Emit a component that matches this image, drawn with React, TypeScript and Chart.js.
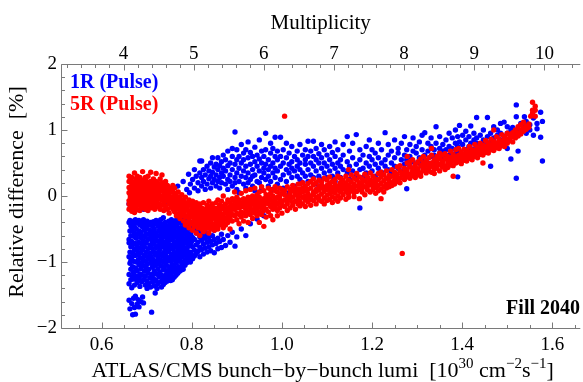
import { useEffect, useRef } from 'react';
import { Chart, registerables } from 'chart.js';

Chart.register(...registerables);

const SERIF = '"Liberation Serif", "Times New Roman", serif';

// Axis ticks
const lumiTicks = [0.6, 0.8, 1.0, 1.2, 1.4, 1.6];
const multiplicityTicks = [4, 5, 6, 7, 8, 9, 10];
const diffTicks = [-2, -1, 0, 1, 2];

// Axis ranges (bottom: bunch lumi, top: multiplicity, left: relative difference)
const LUMI_MIN = 0.51;
const LUMI_MAX = 1.662;
const MULT_MIN = 3.109;
const MULT_MAX = 10.512;
const DIFF_MIN = -2;
const DIFF_MAX = 2;

const seriesNames = ['1R (Pulse)', '5R (Pulse)'];
const fillLabel = 'Fill 2040';

// 1R (Pulse): [lumi, [relative differences %]]
const pulse1R: [number, number[]][] = [
  [0.661, [-1.58, -1.33, -1.19, -0.92, -0.71, -0.66, -0.4, -0.12]],
  [0.663, [-1.71, -1.02, -0.85, -0.53, -0.37]],
  [0.665, [-1.27, -1.11, -0.98, -0.77, -0.6, -0.45, 0.05]],
  [0.667, [-1.63, -1.39, -0.94, -0.69, -0.51]],
  [0.669, [-1.8, -1.22, -1.07, -0.87, -0.74, -0.42]],
  [0.671, [-1.55, -1.16, -0.99, -0.61, -0.38]],
  [0.673, [-1.69, -1.35, -1.26, -0.81, -0.56, -0.47, 0.08]],
  [0.675, [-1.79, -1.52, -1.09, -0.9, -0.72, -0.36]],
  [0.677, [-1.21, -1.0, -0.64, -0.5]],
  [0.679, [-1.64, -1.31, -1.13, -0.83, -0.76, -0.41]],
  [0.681, [-1.57, -0.97, -0.88, -0.58, -0.1]],
  [0.683, [-1.68, -1.25, -1.04, -0.7, -0.53, -0.37]],
  [0.685, [-1.37, -1.18, -0.93, -0.79, -0.44]],
  [0.687, [-1.6, -1.1, -0.86, -0.63, -0.55]],
  [0.689, [-1.3, -1.2, -1.01, -0.73, -0.4]],
  [0.691, [-1.53, -0.95, -0.82, -0.6, -0.47]],
  [0.693, [-1.62, -1.27, -1.06, -0.68, -0.36, -0.2]],
  [0.695, [-1.14, -0.9, -0.77, -0.52]],
  [0.697, [-1.35, -1.22, -0.99, -0.62, -0.43]],
  [0.699, [-1.09, -0.85, -0.71, -0.57]],
  [0.701, [-1.4, -1.29, -1.03, -0.92, -0.49, -0.38]],
  [0.703, [-1.17, -0.8, -0.66, -0.44]],
  [0.705, [-1.33, -1.11, -0.96, -0.58, -0.05]],
  [0.707, [-1.24, -0.87, -0.74, -0.52]],
  [0.709, [-1.38, -1.02, -0.91, -0.63, -0.4]],
  [0.711, [-1.76, -1.19, -0.79, -0.55]],
  [0.713, [-1.3, -1.08, -0.95, -0.69, -0.46]],
  [0.715, [-1.25, -0.84, -0.6, -0.39]],
  [0.717, [-1.36, -1.14, -1.0, -0.73, -0.5]],
  [0.719, [-1.47, -1.05, -0.89, -0.65, -0.42]],
  [0.721, [-1.28, -1.18, -0.78, -0.56, -0.37]],
  [0.723, [-1.4, -0.98, -0.86, -0.68, -0.15]],
  [0.725, [-1.33, -1.1, -0.93, -0.61, -0.45]],
  [0.727, [-1.22, -1.03, -0.75, -0.53, -0.41]],
  [0.729, [-1.15, -0.82, -0.7, -0.48]],
  [0.731, [-1.3, -0.97, -0.88, -0.59, -0.36]],
  [0.733, [-1.38, -1.2, -1.06, -0.66, -0.5]],
  [0.735, [-1.27, -0.91, -0.77, -0.55, -0.43]],
  [0.737, [-1.34, -1.12, -1.0, -0.72, -0.33]],
  [0.739, [-1.24, -1.08, -0.85, -0.62, -0.47]],
  [0.741, [-1.31, -0.95, -0.8, -0.58, -0.4]],
  [0.743, [-1.19, -1.03, -0.9, -0.69, -0.52]],
  [0.745, [-1.29, -1.13, -0.76, -0.6, -0.1]],
  [0.747, [-1.22, -0.98, -0.84, -0.64, -0.45]],
  [0.749, [-1.26, -1.07, -0.73, -0.55, -0.38]],
  [0.751, [-1.16, -0.93, -0.81, -0.67, -0.48]],
  [0.753, [-1.28, -1.1, -0.99, -0.6, -0.42]],
  [0.755, [-1.21, -0.88, -0.75, -0.53, -0.36]],
  [0.757, [-1.27, -1.04, -0.92, -0.66, -0.47]],
  [0.759, [-1.15, -0.97, -0.8, -0.58, -0.4]],
  [0.761, [-1.23, -1.08, -0.86, -0.7, -0.5]],
  [0.763, [-1.13, -0.95, -0.77, -0.62, -0.43]],
  [0.765, [-1.2, -1.02, -0.89, -0.55, -0.37]],
  [0.767, [-1.1, -0.93, -0.72, -0.6, -0.46]],
  [0.769, [-1.17, -0.99, -0.83, -0.66, 0.15]],
  [0.771, [-1.07, -0.9, -0.78, -0.52, -0.4]],
  [0.773, [-1.14, -0.96, -0.7, -0.58, -0.33]],
  [0.775, [-1.09, -0.86, -0.75, -0.63, -0.48]],
  [0.777, [-1.12, -1.0, -0.81, -0.55, -0.41]],
  [0.779, [-1.04, -0.92, -0.68, -0.6, -0.36]],
  [0.781, [-1.11, -0.84, -0.73, -0.5, 0.22]],
  [0.783, [-0.99, -0.89, -0.78, -0.57, -0.44]],
  [0.785, [-1.05, -0.82, -0.65, -0.52, -0.38]],
  [0.787, [-0.96, -0.87, -0.71, -0.48]],
  [0.789, [-1.01, -0.79, -0.62, -0.55, 0.1]],
  [0.791, [-0.93, -0.84, -0.68, -0.45]],
  [0.793, [-0.98, -0.76, -0.59, -0.5, 0.33]],
  [0.795, [-0.9, -0.72, -0.64, -0.42, 0.05]],
  [0.797, [-1.0, -0.85, -0.57, -0.47, 0.18]],
  [0.799, [-0.88, -0.7, -0.61, -0.4]],
  [0.802, [-0.95, -0.77, -0.63, -0.45, 0.25]],
  [0.806, [-0.91, -0.82, -0.66, -0.51, 0.12, 0.4]],
  [0.810, [-0.87, -0.74, -0.56, -0.42, 0.3]],
  [0.814, [-0.84, -0.7, -0.53, 0.08, 0.2]],
  [0.818, [-0.92, -0.78, -0.62, -0.48, 0.35, 0.53]],
  [0.822, [-0.81, -0.67, -0.55, 0.15, 0.28, 0.53]],
  [0.826, [-0.88, -0.73, -0.6, -0.45, 0.22, 0.4]],
  [0.830, [-0.79, -0.64, -0.5, 0.1, 0.32]],
  [0.834, [-0.85, -0.7, -0.57, 0.18, 0.45]],
  [0.838, [-0.77, -0.63, -0.48, 0.26, 0.38]],
  [0.842, [-0.83, -0.69, 0.12, 0.3, 0.5]],
  [0.846, [-0.74, -0.6, 0.2, 0.36, 0.58]],
  [0.850, [-0.86, -0.66, -0.52, 0.25, 0.44]],
  [0.854, [-0.72, 0.15, 0.32, 0.48]],
  [0.858, [-0.8, -0.64, 0.22, 0.4, 0.58]],
  [0.862, [-0.69, 0.12, 0.28, 0.46]],
  [0.866, [-0.78, -0.58, 0.2, 0.35, 0.52]],
  [0.870, [-0.66, 0.3, 0.42, 0.62]],
  [0.875, [-0.75, 0.18, 0.38, 0.55]],
  [0.880, [-0.6, 0.1, 0.25, 0.46, 0.68]],
  [0.885, [-0.7, 0.22, 0.32, 0.5]],
  [0.890, [-0.55, 0.15, 0.4, 0.6, 0.72]],
  [0.896, [-0.76, 0.2, 0.28, 0.48, 0.97]],
  [0.900, [-0.62, 0.1, 0.35, 0.55, 0.7]],
  [0.905, [0.05, 0.22, 0.42, 0.6]],
  [0.910, [-0.5, 0.3, 0.5, 0.78]],
  [0.915, [0.18, 0.38, 0.55, 0.65]],
  [0.920, [-0.6, 0.12, 0.28, 0.45, 0.7]],
  [0.925, [0.2, 0.35, 0.58, 0.82]],
  [0.930, [-0.42, 0.25, 0.48, 0.66]],
  [0.935, [0.15, 0.3, 0.4, 0.6]],
  [0.940, [0.08, 0.32, 0.52, 0.74]],
  [0.945, [-0.35, 0.22, 0.45, 0.62]],
  [0.950, [0.2, 0.38, 0.56, 0.85]],
  [0.955, [0.1, 0.28, 0.5, 0.68]],
  [0.960, [-0.3, 0.35, 0.42, 0.6]],
  [0.964, [0.25, 0.48, 0.7, 0.95]],
  [0.970, [0.15, 0.3, 0.4, 0.55]],
  [0.975, [0.22, 0.45, 0.65, 0.8]],
  [0.980, [0.1, 0.35, 0.5, 0.72]],
  [0.985, [0.28, 0.42, 0.6, 0.89]],
  [0.990, [0.18, 0.38, 0.55, 0.68]],
  [0.997, [0.25, 0.45, 0.6, 0.89]],
  [1.003, [0.12, 0.32, 0.5, 0.7]],
  [1.010, [0.22, 0.4, 0.58, 0.8]],
  [1.016, [0.05, 0.35, 0.48, 0.65]],
  [1.022, [0.28, 0.42, 0.52, 0.75]],
  [1.028, [0.15, 0.38, 0.6]],
  [1.034, [0.3, 0.45, 0.55, 0.68]],
  [1.040, [0.25, 0.4, 0.5, 0.78]],
  [1.046, [0.2, 0.35, 0.62]],
  [1.052, [0.3, 0.48, 0.55, 0.7]],
  [1.058, [0.22, 0.4, 0.6, 0.83]],
  [1.064, [0.32, 0.5, 0.68]],
  [1.070, [0.28, 0.45, 0.6, 0.83]],
  [1.076, [0.18, 0.38, 0.55, 0.72]],
  [1.082, [0.3, 0.5, 0.64]],
  [1.088, [0.25, 0.42, 0.58, 0.78]],
  [1.094, [0.35, 0.5, 0.7]],
  [1.100, [0.15, 0.28, 0.45, 0.62]],
  [1.106, [0.38, 0.55, 0.75]],
  [1.112, [0.3, 0.48, 0.66]],
  [1.118, [0.22, 0.42, 0.6, 0.82]],
  [1.124, [0.35, 0.5, 0.7]],
  [1.130, [0.28, 0.45, 0.55]],
  [1.136, [0.4, 0.62, 0.78]],
  [1.145, [0.35, 0.52, 0.9]],
  [1.150, [0.25, 0.45, 0.68]],
  [1.157, [0.38, 0.58, 0.8]],
  [1.165, [0.3, 0.48, 0.93]],
  [1.173, [-0.18, 0.4, 0.55, 0.7]],
  [1.180, [0.28, 0.42, 0.62]],
  [1.187, [0.35, 0.5, 0.75]],
  [1.194, [0.45, 0.6, 0.85]],
  [1.200, [0.38, 0.55, 0.7]],
  [1.207, [0.3, 0.48, 0.65]],
  [1.214, [0.42, 0.58, 0.8]],
  [1.221, [0.36, 0.5, 0.7]],
  [1.229, [0.45, 0.55, 0.96]],
  [1.236, [0.4, 0.62, 0.78]],
  [1.243, [0.35, 0.5, 0.68]],
  [1.250, [0.45, 0.58, 0.85]],
  [1.258, [0.42, 0.65, 0.72]],
  [1.265, [0.38, 0.55, 0.8]],
  [1.272, [0.48, 0.62, 0.9]],
  [1.277, [0.11, 0.55, 0.7]],
  [1.284, [0.45, 0.6, 0.78]],
  [1.291, [0.52, 0.68, 0.88]],
  [1.298, [0.4, 0.65, 0.75]],
  [1.305, [0.5, 0.58, 0.82]],
  [1.311, [0.45, 0.7, 0.92]],
  [1.317, [0.55, 0.62, 0.96]],
  [1.324, [0.5, 0.68, 0.8]],
  [1.331, [0.6, 0.75, 0.88]],
  [1.338, [0.52, 0.62, 0.7]],
  [1.342, [0.58, 0.8, 1.05]],
  [1.350, [0.65, 0.72, 0.9]],
  [1.357, [0.55, 0.68, 0.78]],
  [1.364, [0.6, 0.7, 0.85]],
  [1.371, [0.62, 0.75, 0.95]],
  [1.378, [0.58, 0.72, 0.88]],
  [1.385, [0.65, 0.8, 1.0]],
  [1.390, [0.29, 0.75, 0.9]],
  [1.394, [0.68, 0.82, 1.07]],
  [1.401, [0.62, 0.78, 0.92]],
  [1.408, [0.7, 0.85, 0.98]],
  [1.415, [0.65, 0.75, 0.9]],
  [1.419, [0.72, 0.8, 1.06]],
  [1.426, [0.7, 0.85, 0.95]],
  [1.432, [0.8, 0.88, 1.19]],
  [1.440, [0.68, 0.75, 0.92]],
  [1.447, [0.78, 0.85, 1.0]],
  [1.456, [0.72, 0.9, 1.19]],
  [1.463, [0.45, 0.82, 0.95]],
  [1.470, [0.78, 0.88, 1.05]],
  [1.478, [0.8, 0.92, 1.0]],
  [1.485, [0.85, 0.95, 1.1]],
  [1.493, [0.82, 0.9, 1.12]],
  [1.500, [0.72, 0.95, 1.05]],
  [1.508, [0.56, 0.9, 1.0]],
  [1.512, [0.96, 1.04]],
  [1.520, [0.27, 1.2, 1.38]],
  [1.524, [0.68, 1.0]],
  [1.530, [0.98, 1.1]],
  [1.538, [1.05, 1.2]],
  [1.542, [0.95, 1.13]],
  [1.550, [1.0, 1.08]],
  [1.558, [0.92, 1.18]],
  [1.566, [1.02, 1.1]],
  [1.574, [0.89, 1.27]],
  [1.578, [0.53, 1.13]],
];

// 5R (Pulse): [lumi, [relative differences %]]
const pulse5R: [number, number[]][] = [
  [0.661, [0.3, 0.13, 0.05, -0.07, -0.12, -0.2, 0.22]],
  [0.664, [0.1, -0.02, -0.15, 0.25, 0.01, -0.09]],
  [0.667, [0.18, 0.06, -0.11, -0.23, 0.28, 0.12]],
  [0.670, [0.02, -0.05, 0.14, -0.18, 0.21, 0.09]],
  [0.673, [0.35, 0.1, -0.03, -0.13, 0.19, -0.25]],
  [0.676, [0.15, 0.0, -0.08, 0.26, 0.05, -0.16]],
  [0.679, [0.08, -0.1, 0.17, -0.02, 0.3, -0.21]],
  [0.682, [0.12, 0.03, -0.14, 0.22, -0.06]],
  [0.685, [0.2, -0.04, 0.06, -0.22, 0.14, 0.28]],
  [0.688, [0.0, 0.16, -0.1, 0.08, -0.18]],
  [0.691, [0.24, 0.1, -0.05, 0.02, -0.14, 0.37]],
  [0.694, [0.12, -0.02, 0.2, -0.1, 0.06]],
  [0.697, [0.05, 0.18, -0.08, 0.28, -0.2, 0.0]],
  [0.700, [0.14, -0.04, 0.1, -0.15, 0.22]],
  [0.703, [0.08, -0.12, 0.18, 0.02, -0.22, 0.3]],
  [0.706, [0.16, 0.0, -0.08, 0.1, -0.16]],
  [0.709, [0.06, 0.22, -0.04, 0.14, -0.18, 0.36]],
  [0.712, [0.12, -0.1, 0.03, 0.2, -0.02]],
  [0.715, [0.18, 0.04, -0.14, 0.26, -0.06, 0.1]],
  [0.718, [0.0, 0.14, -0.2, 0.08, -0.08]],
  [0.721, [0.22, 0.06, -0.1, 0.16, -0.02, 0.34]],
  [0.724, [0.1, -0.06, 0.02, -0.16, 0.2]],
  [0.727, [0.04, 0.18, -0.12, 0.12, -0.04]],
  [0.730, [0.14, -0.02, 0.08, -0.2, 0.26]],
  [0.734, [0.0, 0.1, -0.14, 0.2, -0.06, 0.32]],
  [0.738, [0.06, -0.1, 0.16, -0.02, -0.22]],
  [0.742, [0.12, -0.04, 0.02, -0.16, 0.22]],
  [0.746, [-0.08, 0.08, -0.2, 0.16, 0.0]],
  [0.750, [0.04, -0.12, 0.12, -0.04, -0.26]],
  [0.754, [-0.02, 0.1, -0.16, 0.06, -0.08]],
  [0.758, [0.06, -0.1, -0.2, 0.16, -0.02]],
  [0.762, [-0.04, -0.14, 0.04, -0.24, 0.12]],
  [0.766, [-0.1, 0.0, -0.18, -0.06, -0.3]],
  [0.770, [-0.08, -0.2, 0.06, -0.12, -0.28]],
  [0.774, [-0.14, -0.02, -0.24, -0.1, -0.34]],
  [0.778, [-0.06, -0.18, -0.3, 0.02, -0.12]],
  [0.782, [-0.16, -0.26, -0.08, -0.38, -0.2]],
  [0.786, [-0.12, -0.22, -0.02, -0.32, -0.44]],
  [0.790, [-0.2, -0.3, -0.1, -0.4, -0.16]],
  [0.794, [-0.14, -0.26, -0.36, -0.06, -0.48]],
  [0.798, [-0.22, -0.32, -0.12, -0.42, -0.28]],
  [0.802, [-0.18, -0.3, -0.4, -0.08, -0.52]],
  [0.806, [-0.26, -0.36, -0.14, -0.46, -0.22]],
  [0.810, [-0.2, -0.32, -0.42, -0.1, -0.56]],
  [0.814, [-0.28, -0.38, -0.16, -0.48, -0.24]],
  [0.818, [-0.22, -0.34, -0.44, -0.12, -0.6]],
  [0.822, [-0.3, -0.4, -0.18, -0.5, -0.26]],
  [0.826, [-0.24, -0.36, -0.46, -0.1, -0.54]],
  [0.830, [-0.32, -0.2, -0.42, -0.28, -0.5]],
  [0.834, [-0.26, -0.38, -0.14, -0.48, -0.3]],
  [0.838, [-0.2, -0.34, -0.44, -0.08, -0.56]],
  [0.842, [-0.28, -0.4, -0.16, -0.5, -0.22]],
  [0.846, [-0.22, -0.34, -0.46, -0.12, -0.3]],
  [0.850, [-0.3, -0.18, -0.42, -0.26, -0.52]],
  [0.854, [-0.24, -0.36, -0.1, -0.46, -0.2]],
  [0.858, [-0.18, -0.3, -0.4, -0.06, -0.5]],
  [0.862, [-0.26, -0.14, -0.36, -0.22, -0.44]],
  [0.866, [-0.2, -0.32, -0.08, -0.42, -0.28]],
  [0.870, [-0.16, -0.28, -0.38, 0.0, -0.48]],
  [0.875, [-0.24, -0.12, -0.34, -0.2, -0.44]],
  [0.880, [-0.18, -0.3, -0.06, -0.4, -0.26]],
  [0.885, [-0.22, -0.1, -0.34, -0.16, -0.5]],
  [0.890, [-0.14, -0.28, -0.04, -0.38, -0.2]],
  [0.895, [-0.2, -0.08, -0.3, -0.16, 0.06]],
  [0.900, [-0.12, -0.26, -0.36, -0.02, -0.18]],
  [0.905, [-0.18, -0.06, -0.28, -0.14, -0.42]],
  [0.910, [-0.1, -0.24, 0.04, -0.32, -0.16]],
  [0.915, [-0.16, -0.04, -0.26, -0.12, -0.38]],
  [0.920, [-0.08, -0.2, 0.08, -0.3, -0.14]],
  [0.925, [-0.14, -0.02, -0.24, -0.1, -0.4]],
  [0.930, [-0.06, -0.18, 0.1, -0.28, -0.12]],
  [0.935, [-0.12, 0.0, -0.22, -0.08, -0.34]],
  [0.940, [-0.16, -0.04, 0.12, -0.26, -0.1]],
  [0.945, [-0.1, -0.2, 0.02, -0.3, -0.06]],
  [0.950, [-0.14, 0.06, -0.24, -0.02, -0.4]],
  [0.955, [-0.08, -0.18, 0.14, -0.28, -0.12]],
  [0.960, [-0.04, -0.14, 0.08, -0.22, -0.46]],
  [0.965, [-0.1, 0.02, -0.2, -0.06, -0.32]],
  [0.970, [-0.02, -0.12, 0.12, -0.24, -0.08]],
  [0.975, [-0.16, 0.04, -0.06, -0.3, 0.1]],
  [0.980, [-0.08, -0.2, 0.0, -0.12, -0.36]],
  [0.985, [-0.04, 0.08, -0.16, -0.1, 0.14]],
  [0.990, [-0.12, -0.02, -0.22, 0.06, -0.3]],
  [0.995, [0.0, -0.08, 0.12, -0.18, -0.04]],
  [1.000, [-0.1, 0.04, -0.14, 0.1, -0.26]],
  [1.006, [1.21, -0.06, 0.02, -0.16, 0.08]],
  [1.012, [-0.02, -0.12, 0.14, -0.08, -0.22]],
  [1.018, [0.04, -0.06, 0.1, -0.18, 0.0]],
  [1.024, [-0.1, 0.08, -0.02, 0.16, -0.14]],
  [1.030, [0.02, -0.08, 0.12, -0.2, 0.06]],
  [1.036, [-0.04, 0.1, -0.12, 0.18, 0.0]],
  [1.040, [0.1, -0.08, 0.04, -0.15, 0.18]],
  [1.046, [-0.02, 0.12, 0.06, -0.12, 0.2]],
  [1.052, [0.08, -0.06, 0.15, -0.16, 0.0]],
  [1.058, [0.03, 0.19, -0.09, 0.1, -0.03]],
  [1.064, [0.12, -0.05, 0.22, 0.0, -0.14]],
  [1.070, [0.06, 0.17, -0.07, 0.26, 0.02]],
  [1.076, [0.1, -0.02, 0.2, -0.12, 0.07]],
  [1.082, [0.0, 0.14, 0.24, -0.06, 0.09]],
  [1.088, [0.12, 0.03, 0.21, -0.08, 0.16]],
  [1.094, [0.07, 0.27, -0.03, 0.13, -0.12]],
  [1.100, [0.16, 0.01, 0.1, -0.07, 0.24]],
  [1.106, [0.04, 0.19, 0.29, -0.05, 0.11]],
  [1.112, [0.13, -0.1, 0.07, 0.22, -0.01]],
  [1.118, [0.18, 0.05, 0.25, -0.04, 0.12]],
  [1.124, [0.09, 0.3, 0.0, 0.15, -0.08]],
  [1.130, [0.2, 0.06, 0.13, -0.03, 0.27]],
  [1.136, [0.11, 0.24, 0.02, 0.17]],
  [1.142, [0.07, 0.19, 0.3, -0.05, 0.14]],
  [1.148, [0.16, 0.03, 0.24, 0.1, -0.02, 0.4]],
  [1.154, [0.21, 0.08, 0.32, 0.13]],
  [1.160, [0.05, 0.18, 0.27, -0.01, 0.12]],
  [1.166, [0.15, 0.24, 0.07, 0.34]],
  [1.172, [0.1, 0.2, -0.04, 0.29, 0.16]],
  [1.178, [0.19, 0.06, 0.26, 0.12]],
  [1.184, [0.23, 0.14, 0.33, 0.02]],
  [1.190, [0.09, 0.2, 0.28, 0.15]],
  [1.196, [0.17, 0.35, 0.06, 0.24]],
  [1.202, [0.22, 0.1, 0.3, 0.15]],
  [1.208, [0.13, 0.26, 0.04, 0.2]],
  [1.214, [0.25, 0.16, 0.34, 0.08]],
  [1.220, [0.19, 0.29, 0.1, 0.36, -0.04]],
  [1.226, [0.14, 0.23, 0.32, 0.06]],
  [1.232, [0.27, 0.18, 0.38, 0.12]],
  [1.238, [0.21, 0.31, 0.14, 0.26]],
  [1.244, [0.3, 0.2, 0.4, 0.16]],
  [1.250, [0.24, 0.36, 0.18, 0.31]],
  [1.256, [0.33, 0.22, 0.44, 0.28]],
  [1.262, [0.27, 0.38, 0.2, 0.46]],
  [1.267, [-0.87, 0.32]],
  [1.272, [0.36, 0.25, 0.42, 0.3]],
  [1.278, [0.4, 0.29, 0.5, 0.35, 0.6]],
  [1.284, [0.33, 0.45, 0.27, 0.52]],
  [1.290, [0.42, 0.31, 0.38, 0.55]],
  [1.296, [0.36, 0.48, 0.28, 0.44]],
  [1.302, [0.41, 0.33, 0.52, 0.38]],
  [1.308, [0.46, 0.35, 0.56, 0.3]],
  [1.314, [0.39, 0.5, 0.43, 0.6]],
  [1.320, [0.35, 0.47, 0.54, 0.4]],
  [1.326, [0.44, 0.38, 0.58, 0.49]],
  [1.332, [0.5, 0.36, 0.45, 0.62, 0.72]],
  [1.338, [0.41, 0.55, 0.47, 0.34]],
  [1.344, [0.52, 0.42, 0.6, 0.46]],
  [1.350, [0.48, 0.57, 0.38, 0.65]],
  [1.356, [0.44, 0.53, 0.62, 0.5]],
  [1.362, [0.56, 0.45, 0.4, 0.64]],
  [1.368, [0.5, 0.6, 0.43, 0.55]],
  [1.374, [0.58, 0.47, 0.68, 0.52]],
  [1.380, [0.54, 0.63, 0.46, 0.6, 0.3]],
  [1.386, [0.5, 0.59, 0.7, 0.56]],
  [1.392, [0.62, 0.52, 0.57, 0.72]],
  [1.398, [0.56, 0.66, 0.49, 0.61]],
  [1.404, [0.63, 0.54, 0.71, 0.58]],
  [1.410, [0.6, 0.69, 0.53, 0.65]],
  [1.416, [0.66, 0.57, 0.75, 0.62]],
  [1.422, [0.61, 0.7, 0.55, 0.68]],
  [1.428, [0.69, 0.6, 0.78, 0.64]],
  [1.434, [0.65, 0.74, 0.58, 0.71]],
  [1.440, [0.72, 0.63, 0.8, 0.67]],
  [1.446, [0.68, 0.77, 0.62, 0.74, 0.5]],
  [1.452, [0.75, 0.66, 0.84, 0.71]],
  [1.458, [0.71, 0.8, 0.65, 0.78]],
  [1.464, [0.77, 0.7, 0.86, 0.74]],
  [1.470, [0.74, 0.83, 0.69, 0.8, 1.0]],
  [1.476, [0.8, 0.73, 0.9, 0.77]],
  [1.482, [0.77, 0.86, 0.72, 0.83]],
  [1.488, [0.83, 0.76, 0.93, 0.8]],
  [1.494, [0.81, 0.9, 0.75, 0.86]],
  [1.500, [0.86, 0.8, 0.95]],
  [1.506, [0.84, 0.93, 0.89]],
  [1.512, [0.9, 0.96, 0.82]],
  [1.518, [0.93, 1.0, 0.88]],
  [1.524, [0.95, 1.05, 0.91]],
  [1.530, [1.0, 0.94, 1.08]],
  [1.536, [1.03, 1.12, 0.98]],
  [1.542, [1.06, 1.01]],
  [1.548, [1.09, 1.04]],
  [1.552, [1.21]],
  [1.556, [1.3, 1.42, 1.25]],
  [1.562, [1.3, 1.21, 1.36]],
];

function toPoints(cols: [number, number[]][]) {
  return cols.flatMap(([x, ys]) => ys.map((y) => ({ x, y })));
}

function minorValues(min: number, max: number, step: number, majors: number[]) {
  const out: number[] = [];
  const n = Math.round((max - min) / step);
  for (let i = 0; i <= n; i++) {
    const v = +(min + i * step).toFixed(6);
    if (!majors.some((m) => Math.abs(m - v) < 1e-6)) out.push(v);
  }
  return out;
}

const FRAME = '#7a7a7a';

const decorPlugin = {
  id: 'decor',
  afterDraw(chart: any) {
    const { ctx, chartArea: a } = chart;
    const sx = chart.scales.x;
    const sx2 = chart.scales.x2;
    const sy = chart.scales.y;
    const L = Math.round(a.left) + 0.5;
    const T = Math.round(a.top) + 0.5;
    const B = Math.round(a.bottom) + 0.5;
    const R = a.right;
    ctx.save();
    ctx.strokeStyle = FRAME;
    ctx.lineWidth = 1;
    ctx.beginPath();
    ctx.moveTo(R, T);
    ctx.lineTo(L, T);
    ctx.lineTo(L, B);
    ctx.lineTo(R, B);
    ctx.stroke();

    const seg = (x1: number, y1: number, x2: number, y2: number) => {
      ctx.beginPath();
      ctx.moveTo(x1, y1);
      ctx.lineTo(x2, y2);
      ctx.stroke();
    };
    const MAJ = 6;
    const MIN = 3.5;
    const px = (s: any, v: number) => Math.round(s.getPixelForValue(v)) + 0.5;

    lumiTicks.forEach((v) => seg(px(sx, v), B, px(sx, v), B - MAJ));
    minorValues(0.55, 1.65, 0.05, lumiTicks).forEach((v) => seg(px(sx, v), B, px(sx, v), B - MIN));
    multiplicityTicks.forEach((v) => seg(px(sx2, v), T, px(sx2, v), T + MAJ));
    minorValues(3.2, 10.4, 0.2, multiplicityTicks).forEach((v) => seg(px(sx2, v), T, px(sx2, v), T + MIN));
    diffTicks.forEach((v) => seg(L, px(sy, v), L + MAJ, px(sy, v)));
    minorValues(-2, 2, 0.2, diffTicks).forEach((v) => seg(L, px(sy, v), L + MIN, px(sy, v)));

    // legend texts
    ctx.textBaseline = 'alphabetic';
    ctx.textAlign = 'left';
    ctx.font = `bold 20px ${SERIF}`;
    ctx.fillStyle = '#0000ff';
    ctx.fillText(seriesNames[0], 70, 88);
    ctx.fillStyle = '#ff0000';
    ctx.fillText(seriesNames[1], 70, 110);
    ctx.fillStyle = '#000';
    ctx.textAlign = 'right';
    ctx.fillText(fillLabel, 580, 314);

    // top title
    ctx.font = `21px ${SERIF}`;
    ctx.textAlign = 'center';
    ctx.fillText('Multiplicity', (a.left + a.right) / 2, 29);

    // y title
    ctx.font = `22px ${SERIF}`;
    ctx.save();
    ctx.translate(23, 192);
    ctx.rotate(-Math.PI / 2);
    ctx.textAlign = 'center';
    ctx.fillText('Relative difference  [%]', 0, 0);
    ctx.restore();

    // x title with superscripts
    const parts: [string, boolean][] = [
      ['ATLAS/CMS bunch\u2212by\u2212bunch lumi  [10', false],
      ['30', true],
      [' cm', false],
      ['\u22122', true],
      ['s', false],
      ['\u22121', true],
      [']', false],
    ];
    const baseFont = `22px ${SERIF}`;
    const supFont = `15px ${SERIF}`;
    let total = 0;
    const widths = parts.map(([t, sup]) => {
      ctx.font = sup ? supFont : baseFont;
      const w = ctx.measureText(t).width;
      total += w;
      return w;
    });
    let cx = (a.left + a.right) / 2 + 2 - total / 2;
    ctx.textAlign = 'left';
    const baseY = 377;
    parts.forEach(([t, sup], i) => {
      ctx.font = sup ? supFont : baseFont;
      ctx.fillText(t, cx, sup ? baseY - 9 : baseY);
      cx += widths[i];
    });
    ctx.restore();
  },
};

const tickFont = { family: SERIF, size: 19 };

export default function App() {
  const ref = useRef<HTMLCanvasElement | null>(null);
  useEffect(() => {
    document.body.style.margin = '0';
    const canvas = ref.current;
    if (!canvas) return;
    const chart = new Chart(canvas, {
      type: 'scatter',
      data: {
        datasets: [
          {
            label: seriesNames[1],
            data: toPoints(pulse5R),
            backgroundColor: '#ff0000',
            borderColor: '#ff0000',
            pointRadius: 2.7,
            pointBorderWidth: 0,
            pointHoverRadius: 2.7,
          },
          {
            label: seriesNames[0],
            data: toPoints(pulse1R),
            backgroundColor: '#0000ff',
            borderColor: '#0000ff',
            pointRadius: 2.7,
            pointBorderWidth: 0,
            pointHoverRadius: 2.7,
          },
        ],
      },
      options: {
        responsive: false,
        animation: false,
        events: [],
        layout: { padding: 0 },
        plugins: { legend: { display: false }, tooltip: { enabled: false } },
        scales: {
          x: {
            type: 'linear',
            position: 'bottom',
            min: LUMI_MIN,
            max: LUMI_MAX,
            afterBuildTicks: (s: any) => {
              s.ticks = lumiTicks.map((value) => ({ value }));
            },
            afterFit: (s: any) => {
              s.height = 54;
              s.paddingLeft = 0;
              s.paddingRight = 0;
            },
            grid: { display: false, drawTicks: false },
            border: { display: false },
            ticks: {
              callback: (v: any) => Number(v).toFixed(1),
              font: tickFont,
              color: '#000',
              padding: 6,
              maxRotation: 0,
              autoSkip: false,
            },
          },
          x2: {
            type: 'linear',
            position: 'top',
            min: MULT_MIN,
            max: MULT_MAX,
            afterBuildTicks: (s: any) => {
              s.ticks = multiplicityTicks.map((value) => ({ value }));
            },
            afterFit: (s: any) => {
              s.height = 64;
              s.paddingLeft = 0;
              s.paddingRight = 0;
            },
            grid: { display: false, drawTicks: false },
            border: { display: false },
            ticks: {
              callback: (v: any) => String(v),
              font: tickFont,
              color: '#000',
              padding: -1,
              maxRotation: 0,
              autoSkip: false,
            },
          },
          y: {
            type: 'linear',
            position: 'left',
            min: DIFF_MIN,
            max: DIFF_MAX,
            afterBuildTicks: (s: any) => {
              s.ticks = diffTicks.map((value) => ({ value }));
            },
            afterFit: (s: any) => {
              s.width = 61;
              s.paddingTop = 0;
              s.paddingBottom = 0;
            },
            grid: { display: false, drawTicks: false },
            border: { display: false },
            ticks: {
              callback: (v: any) => (v < 0 ? '\u2212' + Math.abs(v) : String(v)),
              font: tickFont,
              color: '#000',
              padding: 4,
              autoSkip: false,
            },
          },
        },
      },
      plugins: [decorPlugin],
    });
    return () => chart.destroy();
  }, []);
  return (
    <div style={{ width: 583, height: 382 }}>
      <canvas ref={ref} width={583} height={382} style={{ display: 'block' }} />
    </div>
  );
}
